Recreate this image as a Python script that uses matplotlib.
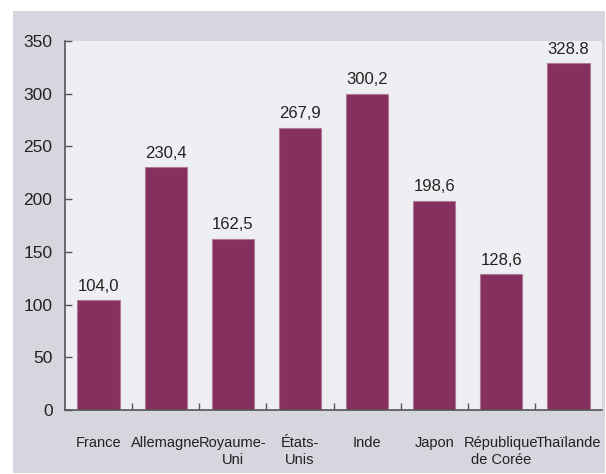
import matplotlib.pyplot as plt
from matplotlib.patches import Rectangle

# Data
pays = ['France', 'Allemagne', 'Royaume-\nUni', 'États-\nUnis', 'Inde',
        'Japon', 'République\nde Corée', 'Thaïlande']
valeurs = [104.0, 230.4, 162.5, 267.9, 300.2, 198.6, 128.6, 328.8]
etiquettes = ['104,0', '230,4', '162,5', '267,9', '300,2', '198,6', '128,6', '328.8']
graduations_y = [0, 50, 100, 150, 200, 250, 300, 350]

plt.rcParams['font.family'] = ['Liberation Sans', 'DejaVu Sans']

W, H = 606, 474
fig = plt.figure(figsize=(W / 100, H / 100), dpi=100)
fig.patch.set_facecolor('white')

# Grey panel behind the chart
fig.patches.append(Rectangle((13 / W, 1 - 473 / H), (605 - 13) / W, (473 - 11) / H,
                             transform=fig.transFigure, facecolor='#d5d6de',
                             edgecolor='none', zorder=-10))

ax = fig.add_axes([65 / W, 1 - 410 / H, (602 - 65) / W, (410 - 41) / H])
ax.set_facecolor('#eeeff3')

x = range(len(pays))
ax.bar(x, valeurs, width=0.63, color='#86305f', edgecolor='#b07a96', linewidth=0.8)

for xi, v, t in zip(x, valeurs, etiquettes):
    ax.text(xi, v + 6, t, ha='center', va='bottom', fontsize=12, color='#222222')

ax.set_xlim(-0.5, len(pays) - 0.5)
ax.set_ylim(0, 350)
ax.set_yticks(graduations_y)
ax.set_xticks(x)
ax.set_xticklabels(pays, fontsize=10.5, color='#222222', linespacing=1.25)
ax.tick_params(axis='x', length=0, pad=19)
ax.tick_params(axis='y', direction='in', length=5, width=1, color='#555555',
               labelsize=12.5, labelcolor='#222222', pad=9)

# Minor ticks between categories on the x axis
ax.set_xticks([i + 0.5 for i in range(len(pays) - 1)], minor=True)
ax.tick_params(axis='x', which='minor', direction='in', length=5, width=1, color='#555555')

for s in ['top', 'right']:
    ax.spines[s].set_visible(False)
for s in ['left', 'bottom']:
    ax.spines[s].set_color('#555555')
    ax.spines[s].set_linewidth(1.2)

fig.savefig('out.png', dpi=100, facecolor=fig.get_facecolor())
